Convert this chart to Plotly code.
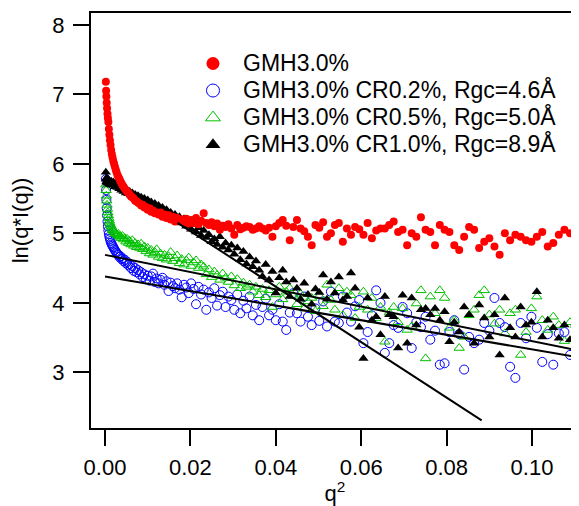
import plotly.graph_objects as go

# q^2 grid shared by all four curves
q2 = [
    0.000196, 0.000256, 0.000324, 0.000400, 0.000484, 0.000576, 0.000676, 0.000784, 0.000900, 0.001024,
    0.001156, 0.001296, 0.001444, 0.001600, 0.001764, 0.001936, 0.002116, 0.002304, 0.002500, 0.002704,
    0.002916, 0.003136, 0.003364, 0.003600, 0.003844, 0.004096, 0.004356, 0.004624, 0.004900, 0.005184,
    0.005476, 0.005776, 0.006084, 0.006400, 0.006724, 0.007056, 0.007396, 0.007744, 0.008100, 0.008464,
    0.008836, 0.009216, 0.009604, 0.010000, 0.010404, 0.010816, 0.011236, 0.011664, 0.012100, 0.012544,
    0.012996, 0.013456, 0.013924, 0.014400, 0.014884, 0.015376, 0.015876, 0.016384, 0.016900, 0.017424,
    0.017956, 0.018496, 0.019044, 0.019600, 0.020164, 0.020736, 0.021316, 0.021904, 0.022500, 0.023104,
    0.023716, 0.024336, 0.024964, 0.025600, 0.026244, 0.026896, 0.027556, 0.028224, 0.028900, 0.029584,
    0.030276, 0.030976, 0.031684, 0.032400, 0.033124, 0.033856, 0.034596, 0.035344, 0.036100, 0.036864,
    0.037636, 0.038416, 0.039204, 0.040000, 0.040804, 0.041616, 0.042436, 0.043264, 0.044100, 0.044944,
    0.045796, 0.046656, 0.047524, 0.048400, 0.049284, 0.050176, 0.051076, 0.051984, 0.052900, 0.053824,
    0.054756, 0.055696, 0.056644, 0.057600, 0.058564, 0.059536, 0.060516, 0.061504, 0.062500, 0.063504,
    0.064516, 0.065536, 0.066564, 0.067600, 0.068644, 0.069696, 0.070756, 0.071824, 0.072900, 0.073984,
    0.075076, 0.076176, 0.077284, 0.078400, 0.079524, 0.080656, 0.081796, 0.082944, 0.084100, 0.085264,
    0.086436, 0.087616, 0.088804, 0.090000, 0.091204, 0.092416, 0.093636, 0.094864, 0.096100, 0.097344,
    0.098596, 0.099856, 0.101124, 0.102400, 0.103684, 0.104976, 0.106276, 0.107584, 0.108900, 0.110224,
]

# ln(q*I(q)) for each sample
gmh30 = [
    7.18, 7.05, 6.97, 6.88, 6.80, 6.72, 6.66, 6.60, 6.50, 6.42,
    6.34, 6.27, 6.20, 6.14, 6.09, 6.04, 6.00, 5.96, 5.92, 5.88,
    5.84, 5.81, 5.78, 5.75, 5.72, 5.69, 5.67, 5.64, 5.62, 5.60,
    5.58, 5.56, 5.53, 5.52, 5.50, 5.47, 5.46, 5.44, 5.43, 5.40,
    5.41, 5.37, 5.38, 5.34, 5.36, 5.31, 5.33, 5.29, 5.30, 5.27,
    5.30, 5.24, 5.27, 5.22, 5.26, 5.20, 5.24, 5.17, 5.22, 5.19,
    5.20, 5.16, 5.21, 5.14, 5.19, 5.15, 5.22, 5.13, 5.18, 5.29,
    5.15, 5.12, 5.16, 5.10, 5.14, 5.05, 5.11, 5.09, 5.13, 5.07,
    4.98, 5.12, 5.06, 5.08, 5.10, 5.09, 5.05, 5.07, 5.10, 5.07,
    5.04, 5.08, 4.95, 5.10, 5.15, 5.19, 5.11, 4.90, 5.09, 5.19,
    5.07, 5.03, 4.95, 4.83, 5.12, 5.08, 5.16, 4.95, 5.00, 5.12,
    5.15, 4.88, 5.07, 4.98, 5.09, 5.06, 4.98, 5.15, 4.93, 5.04,
    5.07, 5.07, 5.12, 5.17, 5.02, 5.05, 4.83, 5.00, 4.95, 5.23,
    5.05, 5.02, 4.83, 5.12, 5.05, 5.02, 4.83, 4.76, 4.95, 5.09,
    5.05, 4.79, 4.88, 4.93, 4.81, 4.69, 5.00, 4.90, 4.98, 4.95,
    4.90, 4.88, 4.95, 5.02, 4.81, 4.86, 4.98, 5.05, 5.00, 4.95,
]

cr02 = [
    5.78, 5.62, 5.48, 5.36, 5.26, 5.17, 5.10, 5.04, 4.99, 4.95,
    4.92, 4.89, 4.86, 4.84, 4.82, 4.80, 4.78, 4.76, 4.74, 4.72,
    4.70, 4.69, 4.66, 4.67, 4.63, 4.64, 4.60, 4.62, 4.57, 4.59,
    4.54, 4.56, 4.50, 4.53, 4.46, 4.50, 4.44, 4.47, 4.41, 4.44,
    4.37, 4.41, 4.34, 4.39, 4.32, 4.38, 4.42, 4.30, 4.35, 4.28,
    4.33, 4.36, 4.26, 4.31, 4.17, 4.29, 4.24, 4.21, 4.28, 4.19,
    4.08, 4.26, 4.22, 4.14, 4.28, 4.20, 3.98, 4.23, 4.12, 4.19,
    3.90, 4.15, 4.07, 4.21, 3.96, 4.11, 4.16, 3.94, 4.09, 4.04,
    3.90, 4.12, 3.85, 4.03, 3.92, 4.09, 3.82, 3.97, 3.75, 3.94,
    4.06, 3.82, 3.90, 3.75, 3.98, 3.73, 3.61, 3.86, 4.14, 3.85,
    3.73, 4.09, 3.80, 3.68, 3.92, 3.74, 4.02, 3.66, 4.16, 3.73,
    3.71, 4.09, 3.86, 3.73, 3.95, 4.04, 3.42, 3.58, 3.82, 4.18,
    4.00, 3.28, 3.42, 3.68, 3.64, 3.94, 3.85, 3.35, 3.72, 3.65,
    3.80, 3.47, 3.60, 3.11, 3.13, 3.58, 3.75, 3.55, 3.04, 3.51,
    3.42, 3.47, 3.71, 3.60, 4.07, 3.71, 3.65, 3.08, 2.92, 3.71,
    3.49, 3.80, 3.64, 3.15, 3.55, 3.11, 3.56, 3.58, 3.25, 3.68,
]

cr05 = [
    5.70, 5.62, 5.54, 5.47, 5.41, 5.35, 5.30, 5.26, 5.22, 5.18,
    5.15, 5.12, 5.10, 5.08, 5.06, 5.04, 5.03, 5.01, 5.00, 4.99,
    4.97, 4.99, 4.95, 4.96, 4.93, 4.96, 4.91, 4.93, 4.88, 4.92,
    4.86, 4.89, 4.84, 4.90, 4.82, 4.86, 4.80, 4.84, 4.79, 4.85,
    4.77, 4.81, 4.74, 4.79, 4.71, 4.76, 4.69, 4.73, 4.77, 4.66,
    4.71, 4.64, 4.69, 4.62, 4.67, 4.73, 4.60, 4.64, 4.68, 4.57,
    4.63, 4.55, 4.61, 4.65, 4.53, 4.58, 4.61, 4.50, 4.55, 4.52,
    4.41, 4.48, 4.37, 4.45, 4.40, 4.33, 4.42, 4.36, 4.30, 4.38,
    4.25, 4.34, 4.21, 4.29, 4.23, 4.26, 4.16, 4.23, 4.11, 4.20,
    4.08, 4.18, 3.94, 4.12, 4.23, 4.05, 4.16, 4.21, 4.10, 3.98,
    4.13, 3.92, 4.02, 4.07, 3.88, 4.10, 3.95, 4.26, 4.04, 3.90,
    4.21, 3.82, 4.16, 4.11, 3.78, 3.94, 4.16, 3.90, 4.07, 3.78,
    3.94, 3.44, 3.86, 3.94, 3.72, 3.92, 3.61, 3.66, 3.99, 4.18,
    3.20, 4.09, 3.85, 4.18, 4.07, 3.64, 3.75, 3.35, 3.51, 3.82,
    3.90, 4.11, 4.18, 3.83, 3.70, 3.90, 3.56, 3.85, 3.90, 3.25,
    3.58, 3.92, 4.09, 3.75, 3.61, 3.80, 3.68, 3.45, 3.72, 3.68,
]

cr10 = [
    5.88, 5.78, 5.74, 5.80, 5.75, 5.72, 5.77, 5.73, 5.76, 5.71,
    5.74, 5.70, 5.75, 5.72, 5.69, 5.74, 5.70, 5.67, 5.72, 5.69,
    5.66, 5.70, 5.64, 5.68, 5.62, 5.66, 5.60, 5.64, 5.58, 5.62,
    5.57, 5.60, 5.55, 5.58, 5.52, 5.56, 5.50, 5.54, 5.48, 5.52,
    5.46, 5.50, 5.44, 5.48, 5.41, 5.45, 5.38, 5.43, 5.36, 5.40,
    5.33, 5.37, 5.30, 5.34, 5.26, 5.30, 5.22, 5.27, 5.18, 5.24,
    5.15, 5.21, 5.10, 5.17, 5.06, 5.13, 5.02, 5.08, 4.97, 5.04,
    4.94, 4.98, 4.88, 4.92, 4.84, 4.95, 4.80, 4.86, 4.76, 4.83,
    4.70, 4.79, 4.62, 4.74, 4.56, 4.66, 4.52, 4.60, 4.47, 4.38,
    4.55, 4.33, 4.45, 4.14, 4.36, 4.47, 4.30, 4.09, 4.33, 4.21,
    4.05, 4.28, 4.12, 3.98, 4.20, 4.15, 4.40, 4.05, 4.30, 4.14,
    4.37, 4.04, 4.09, 4.43, 4.21, 3.65, 3.20, 4.07, 3.75, 3.80,
    3.54, 4.09, 3.83, 3.80, 3.35, 4.11, 3.42, 4.07, 3.68, 3.90,
    3.92, 3.83, 3.92, 3.75, 3.87, 3.44, 3.72, 3.58, 3.94, 3.83,
    3.42, 3.97, 3.78, 3.51, 3.83, 3.25, 4.07, 3.64, 3.51, 3.94,
    3.68, 3.72, 4.16, 3.51, 3.75, 3.64, 3.49, 3.68, 3.47, 3.35,
]

# Guinier fit lines (end points)
fit_cr02_x = [0.0, 0.1105]
fit_cr02_y = [4.38, 3.22]
fit_cr05_x = [0.0, 0.1105]
fit_cr05_y = [4.69, 3.32]
fit_cr10_x = [0.017, 0.0882]
fit_cr10_y = [5.15, 2.31]

labels = [
    "GMH3.0%",
    "GMH3.0% CR0.2%, Rgc=4.6Å",
    "GMH3.0% CR0.5%, Rgc=5.0Å",
    "GMH3.0% CR1.0%, Rgc=8.9Å",
]

RED = "#ff0000"
BLUE = "#0000ff"
GREEN = "#00c000"
BLACK = "#000000"

fig = go.Figure()

# data traces (drawn bottom to top)
fig.add_trace(go.Scatter(
    x=q2, y=cr02, mode="markers", showlegend=False,
    marker=dict(symbol="circle-open", size=9, color=BLUE, line=dict(width=1, color=BLUE)),
))
fig.add_trace(go.Scatter(
    x=q2, y=cr05, mode="markers", showlegend=False,
    marker=dict(symbol="triangle-up-open", size=9, color=GREEN, line=dict(width=1, color=GREEN)),
))
fig.add_trace(go.Scatter(
    x=q2, y=cr10, mode="markers", showlegend=False,
    marker=dict(symbol="triangle-up", size=9, color=BLACK, line=dict(width=0)),
))
fig.add_trace(go.Scatter(
    x=q2, y=gmh30, mode="markers", showlegend=False,
    marker=dict(symbol="circle", size=8, color=RED, line=dict(width=0)),
))

for fx, fy in [(fit_cr02_x, fit_cr02_y), (fit_cr05_x, fit_cr05_y), (fit_cr10_x, fit_cr10_y)]:
    fig.add_trace(go.Scatter(
        x=fx, y=fy, mode="lines", showlegend=False,
        line=dict(color=BLACK, width=2),
    ))

# legend-only entries with larger symbols
legend_markers = [
    dict(symbol="circle", size=13, color=RED, line=dict(width=0)),
    dict(symbol="circle-open", size=13, color=BLUE, line=dict(width=1, color=BLUE)),
    dict(symbol="triangle-up-open", size=13, color=GREEN, line=dict(width=1, color=GREEN)),
    dict(symbol="triangle-up", size=13, color=BLACK, line=dict(width=0)),
]
for i, (name, mk) in enumerate(zip(labels, legend_markers)):
    fig.add_trace(go.Scatter(
        x=[None], y=[None], mode="markers",
        name=f'<span style="font-size:23px">{name}</span>',
        marker=mk, legendrank=i + 1,
    ))

font_family = "Arial, Liberation Sans, sans-serif"

# the page body adds an 8px offset, so the figure is 8px smaller than the window
fig.update_layout(
    width=571,
    height=498,
    margin=dict(l=83, r=0, t=5, b=78),
    plot_bgcolor="white",
    paper_bgcolor="white",
    font=dict(family=font_family, size=22, color="black"),
    legend=dict(
        x=0.1885, y=0.923, xanchor="left", yanchor="top",
        bgcolor="rgba(0,0,0,0)", borderwidth=0,
        font=dict(size=18.5), itemwidth=50, tracegroupgap=0,
    ),
)

fig.update_xaxes(
    range=[-0.00328, 0.1110],
    tickvals=[0.0, 0.02, 0.04, 0.06, 0.08, 0.10],
    ticktext=["0.00", "0.02", "0.04", "0.06", "0.08", "0.10"],
    ticks="outside", ticklen=16, tickwidth=2, tickcolor="black",
    showline=True, linewidth=2, linecolor="black", mirror=True,
    showgrid=False, zeroline=False, automargin=False,
    ticklabelstandoff=3,
    title=dict(text="q<sup>2</sup>", standoff=12, font=dict(size=22)),
)
fig.update_yaxes(
    range=[2.199, 8.170],
    tickvals=[3, 4, 5, 6, 7, 8],
    ticks="outside", ticklen=16, tickwidth=2, tickcolor="black",
    showline=True, linewidth=2, linecolor="black", mirror=False,
    showgrid=False, zeroline=False, automargin=False,
    ticklabelstandoff=4,
    title=dict(text="ln(q*I(q))", standoff=19, font=dict(size=22)),
)

fig.write_html("out.html")
